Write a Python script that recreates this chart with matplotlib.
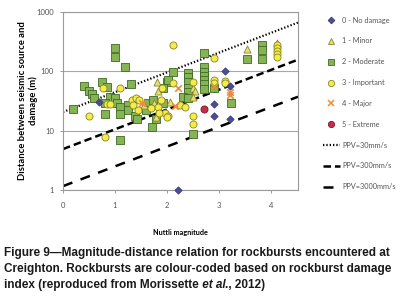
import numpy as np
import matplotlib
matplotlib.use("Agg")
import matplotlib.pyplot as plt
from matplotlib.lines import Line2D

plt.rcParams['font.family'] = ['Lato', 'DejaVu Sans']

# Nuttli magnitude (M) and distance (m) per damage class
m0 = [0.69, 3.12, 3.21, 2.90, 2.90, 3.21, 2.21]
r0 = [30, 100, 57, 28, 18, 16, 1.0]

m1 = [3.54, 4.12, 1.81, 2.50, 2.54, 1.83, 2.50, 1.55, 1.79, 1.75, 2.05]
r1 = [240, 302, 66, 52, 47, 47, 37, 27, 17, 29, 31]

m2 = [1.00, 1.00, 1.19, 2.71, 3.54, 3.83, 3.83, 3.83,
      0.40, 0.50, 0.56, 0.60, 0.75, 0.85, 0.90, 1.00, 1.04, 1.10, 1.25, 1.25,
      1.31, 0.19, 0.81, 1.10, 1.38, 1.42, 1.71, 1.10, 2.50,
      2.12, 2.00, 2.02, 1.92, 2.40, 2.40, 2.40, 2.40, 2.40, 2.31, 2.40,
      2.71, 2.71, 2.71, 2.71, 2.71, 2.71, 1.63, 1.73, 1.92, 1.79, 2.90, 3.23,
      0.80, 1.60]
r2 = [247, 175, 118, 204, 162, 280, 230, 162,
      57, 47, 41, 36, 66, 55, 37, 36, 29, 25, 27, 22,
      61, 23, 19, 19, 18, 16, 11.5, 7.0, 8.8,
      98, 66, 71, 52, 94, 81, 66, 52, 45, 37, 36,
      118, 98, 83, 71, 61, 50, 29, 33, 29, 16, 52, 29,
      29, 22]

m3 = [2.12, 2.90, 4.12, 4.12, 4.12, 4.12, 4.12,
      0.77, 1.10, 0.85, 0.90, 1.33, 1.40, 1.35, 0.50, 0.80, 1.46,
      1.90, 2.12, 2.50, 2.90, 2.90, 3.12, 3.12, 2.25, 2.35,
      1.96, 2.02, 1.83, 1.85, 2.00, 2.50, 2.50, 1.88, 1.70, 1.45]
r3 = [278, 168, 280, 245, 218, 195, 175,
      52, 52, 28, 28, 33, 36, 27, 18, 7.8, 33,
      52, 64, 66, 71, 64, 69, 64, 27, 25,
      20, 18, 25, 20, 17, 18, 13, 33, 24, 22]

m4 = [1.52, 2.21, 2.15, 2.90, 3.21, 3.21]
r4 = [29, 52, 26, 57, 45, 40]

m5 = [2.71]
r5 = [23]

# Peak particle velocity thresholds: log10(R) = c + M/3
ppv_labels = ["PPV=30mm/s", "PPV=300mm/s", "PPV=3000mm/s"]
ppv_intercepts = [1.315, 0.69, 0.065]
ppv_slope = 1.0 / 3.0

class_labels = ["0 - No damage", "1 - Minor", "2 - Moderate",
                "3 - Important", "4 - Major", "5 - Extreme"]

fig = plt.figure(figsize=(4.03, 3.04), dpi=100)
ax = fig.add_axes([63 / 403, 1 - 190 / 304, 235 / 403, 178 / 304])

mx = np.linspace(0, 4.52, 50)
ppv_styles = [
    dict(linestyle=(0, (0.6, 0.9)), linewidth=1.6),
    dict(linestyle=(0, (3.0, 1.6)), linewidth=1.8),
    dict(linestyle=(0, (4.0, 3.5)), linewidth=1.8),
]
for c, st in zip(ppv_intercepts, ppv_styles):
    ax.plot(mx, 10 ** (c + ppv_slope * mx), color="black", zorder=2, **st)

ms = 26
ax.scatter(m2, r2, marker="s", s=ms, facecolor="#86b455", edgecolor="#3d6a22",
           linewidth=0.6, zorder=3)
ax.scatter(m1, r1, marker="^", s=ms, facecolor="#e6e070", edgecolor="#8a8430",
           linewidth=0.6, zorder=4)
ax.scatter(m3, r3, marker="o", s=ms, facecolor="#f2ec4c", edgecolor="#8a8420",
           linewidth=0.6, zorder=4)
ax.scatter(m4, r4, marker="x", s=22, color="#f08a38", linewidth=1.2, zorder=5)
ax.scatter(m5, r5, marker="o", s=ms, facecolor="#c03048", edgecolor="#7a1828",
           linewidth=0.6, zorder=5)
ax.scatter(m0, r0, marker="D", s=14, facecolor="#4c4c98", edgecolor="#343470",
           linewidth=0.5, zorder=5, clip_on=False)

ax.set_yscale("log")
ax.set_xlim(0, 4.52)
ax.set_ylim(1, 1000)
ax.set_xticks([0, 1, 2, 3, 4])
ax.set_yticks([1, 10, 100, 1000])
ax.set_yticklabels(["1", "10", "100", "1000"])
ax.yaxis.set_minor_locator(matplotlib.ticker.NullLocator())
ax.grid(axis="y", which="major", color="#a8a8a8", linewidth=0.8, zorder=0)
for sp in ax.spines.values():
    sp.set_color("#9a9a9a")
    sp.set_linewidth(0.8)
ax.tick_params(axis="both", labelsize=5.5, colors="#9a9a9a", labelcolor="#555555",
               length=2.5, width=0.7, pad=4)
ax.tick_params(axis="x", pad=6)

ax.set_xlabel("Nuttli magnitude", fontsize=5.2, fontweight="bold")
ax.xaxis.set_label_coords(0.5, -(229 - 190) / 178)
ax.set_ylabel("Distance between seismic source and\ndamage (m)", fontsize=6.8,
              fontweight="bold", linespacing=1.2)
ax.yaxis.set_label_coords(-(63 - 38) / 235, 0.5)

handles = [
    Line2D([], [], marker="D", linestyle="none", markersize=3.5,
           markerfacecolor="#4c4c98", markeredgecolor="#343470", markeredgewidth=0.5),
    Line2D([], [], marker="^", linestyle="none", markersize=5,
           markerfacecolor="#e6e070", markeredgecolor="#8a8430", markeredgewidth=0.6),
    Line2D([], [], marker="s", linestyle="none", markersize=4.5,
           markerfacecolor="#86b455", markeredgecolor="#3d6a22", markeredgewidth=0.6),
    Line2D([], [], marker="o", linestyle="none", markersize=4.5,
           markerfacecolor="#f2ec4c", markeredgecolor="#8a8420", markeredgewidth=0.6),
    Line2D([], [], marker="x", linestyle="none", markersize=4.5,
           color="#f08a38", markeredgewidth=1.1),
    Line2D([], [], marker="o", linestyle="none", markersize=4.5,
           markerfacecolor="#c03048", markeredgecolor="#7a1828", markeredgewidth=0.6),
]
for st in ppv_styles:
    handles.append(Line2D([], [], color="black", **st))

fig.legend(handles, class_labels + ppv_labels, loc="upper left",
           bbox_to_anchor=(316 / 403, 1 - 10 / 304), frameon=False,
           fontsize=5.3, labelspacing=1.88, handlelength=2.4, handletextpad=0.3,
           labelcolor="#555555")

# Caption below the chart
cap_font = dict(fontsize=8.5, fontweight="bold",
                family=["Liberation Sans", "DejaVu Sans"], color="#1a1a1a",
                va="center")
caption_y = [253, 269, 285]
fig.text(4 / 403, 1 - caption_y[0] / 304,
         "Figure 9\u2014Magnitude-distance relation for rockbursts encountered at",
         **cap_font)
fig.text(4 / 403, 1 - caption_y[1] / 304,
         "Creighton. Rockbursts are colour-coded based on rockburst damage",
         **cap_font)

renderer = fig.canvas.get_renderer()
x_px = 4.0
y_fig = 1 - caption_y[2] / 304
for piece, style in [("index (reproduced from Morissette", "normal"),
                     (" et al", "italic"),
                     ("., 2012)", "normal")]:
    t = fig.text(x_px / 403, y_fig, piece, style=style, **cap_font)
    x_px += t.get_window_extent(renderer).width

fig.savefig("out.png", dpi=100)
